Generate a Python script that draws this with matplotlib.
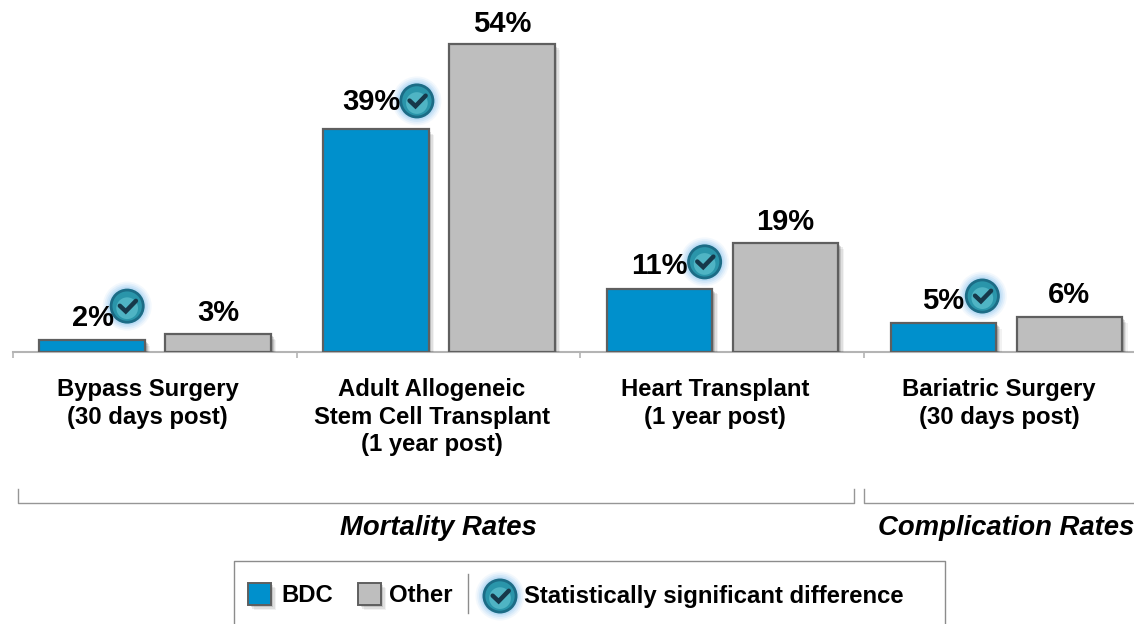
import matplotlib
matplotlib.use('Agg')
import matplotlib.pyplot as plt
import matplotlib.patheffects as pe
from matplotlib.patches import Circle, Rectangle

plt.rcParams['font.family'] = ['Liberation Sans', 'DejaVu Sans']
plt.rcParams['font.weight'] = 'bold'

categories = ['Bypass Surgery\n(30 days post)',
              'Adult Allogeneic\nStem Cell Transplant\n(1 year post)',
              'Heart Transplant\n(1 year post)',
              'Bariatric Surgery\n(30 days post)']
bdc = [2, 39, 11, 5]
other = [3, 54, 19, 6]
groups = ['Mortality Rates', 'Complication Rates']

BLUE = '#0090CC'
GRAY = '#BEBEBE'
EDGE = '#5f5f5f'
AXIS = '#b4b4b4'
W, H = 1134, 624


def soft_shadow():
    # a few stacked offsets, looks close enough to the blurred shadow
    fx = [pe.SimplePatchShadow(offset=(o, -o), shadow_rgbFace='black', alpha=a)
          for o, a in ((4.0, 0.05), (3.0, 0.08), (2.0, 0.12), (1.2, 0.14))]
    return fx + [pe.Normal()]


def draw_icon(ax, x, y, r=17.5):
    for k, a in ((1.40, 0.10), (1.30, 0.15), (1.20, 0.20), (1.10, 0.28)):
        ax.add_patch(Circle((x, y), r * k, fc='#8cc4f0', ec='none', alpha=a, zorder=6))
    ax.add_patch(Circle((x, y), r, fc='#1c6c86', ec='none', zorder=7))
    ax.add_patch(Circle((x, y), r * 0.84, fc='#2a95aa', ec='none', zorder=8))
    ax.add_patch(Circle((x, y + r * 0.12), r * 0.62, fc='#4fb4c4', ec='none', zorder=9))
    ax.plot([x - r * 0.42, x - r * 0.08, x + r * 0.50], [y - r * 0.02, y + r * 0.30, y - r * 0.30],
            color='#16384a', lw=3.2, solid_capstyle='round', solid_joinstyle='miter', zorder=10)


fig = plt.figure(figsize=(W / 100, H / 100), dpi=100)

base = 351.5
ax = fig.add_axes([13 / W, 1 - base / H, (W - 13) / W, base / H])
ax.set_xlim(-0.5, 3.451)
ax.set_ylim(0, base / 5.694)
ax.patch.set_visible(False)

xs = range(len(categories))
bar_w = 0.372
bars1 = ax.bar([i - 0.221 for i in xs], bdc, bar_w, color=BLUE, edgecolor=EDGE, linewidth=1.6, zorder=3)
bars2 = ax.bar([i + 0.223 for i in xs], other, bar_w, color=GRAY, edgecolor=EDGE, linewidth=1.6, zorder=3)
for b in list(bars1) + list(bars2):
    b.set_path_effects(soft_shadow())

for s in ('top', 'left', 'right'):
    ax.spines[s].set_visible(False)
ax.spines['bottom'].set_color(AXIS)
ax.spines['bottom'].set_linewidth(1.5)
ax.set_yticks([])
ax.set_xticks([-0.5, 0.5, 1.5, 2.5], labels=[])
ax.tick_params(axis='x', length=4, width=1.2, color=AXIS)

# overlay in pixel coords for all the annotations
ov = fig.add_axes([0, 0, 1, 1])
ov.set_xlim(0, W)
ov.set_ylim(H, 0)
ov.axis('off')
ov.patch.set_visible(False)

# value labels, nudged by hand next to the icons
bdc_dx = [1, -4, 0, 0]
bdc_dy = [22, 27, 22.5, 22.5]
other_dy = [21.5, 20.5, 21.5, 22.5]
icon_dx = [35, 41, 45, 39]
icon_dy = [34, 28.5, 27, 27]
for i in xs:
    bx, by = ax.transData.transform((i - 0.221, bdc[i]))
    by = H - by
    ov.text(bx + bdc_dx[i], by - bdc_dy[i], f'{bdc[i]}%', fontsize=21, ha='center', va='center', zorder=12)
    draw_icon(ov, bx + icon_dx[i], by - icon_dy[i])
    ox, oy = ax.transData.transform((i + 0.223, other[i]))
    ov.text(ox, H - oy - other_dy[i], f'{other[i]}%', fontsize=21, ha='center', va='center', zorder=12)
    cx = ax.transData.transform((i, 0))[0]
    ov.text(cx - 7, 378, categories[i], fontsize=17.2, ha='center', va='top', linespacing=1.26)

# group brackets
ov.plot([18, 18, 854, 854], [489, 503, 503, 489], color='#969696', lw=1.0)
ov.plot([864, 864, W + 2], [489, 503, 503], color='#969696', lw=1.0)
ov.text(438, 528, groups[0], fontsize=19.8, style='italic', ha='center', va='center')
ov.text(1006, 528, groups[1], fontsize=19.8, style='italic', ha='center', va='center')

# legend box, runs off the bottom edge
ov.plot([233.5, 233.5, 945, 945], [H + 2, 560.5, 560.5, H + 2], color='#8c8c8c', lw=1.0)
for x0, c in ((248, BLUE), (358, GRAY)):
    r = Rectangle((x0, 582.5), 22.5, 22, fc=c, ec=EDGE, lw=1.4, zorder=3)
    r.set_path_effects(soft_shadow())
    ov.add_patch(r)
ov.text(281, 595, 'BDC', fontsize=17.2, va='center')
ov.text(389, 595, 'Other', fontsize=17.2, va='center')
ov.plot([467.5, 467.5], [574, 613], color='#8c8c8c', lw=1.0)
draw_icon(ov, 500, 596)
ov.text(524, 596, 'Statistically significant difference', fontsize=17.2, va='center', zorder=12)

fig.savefig('out.png', dpi=100)
